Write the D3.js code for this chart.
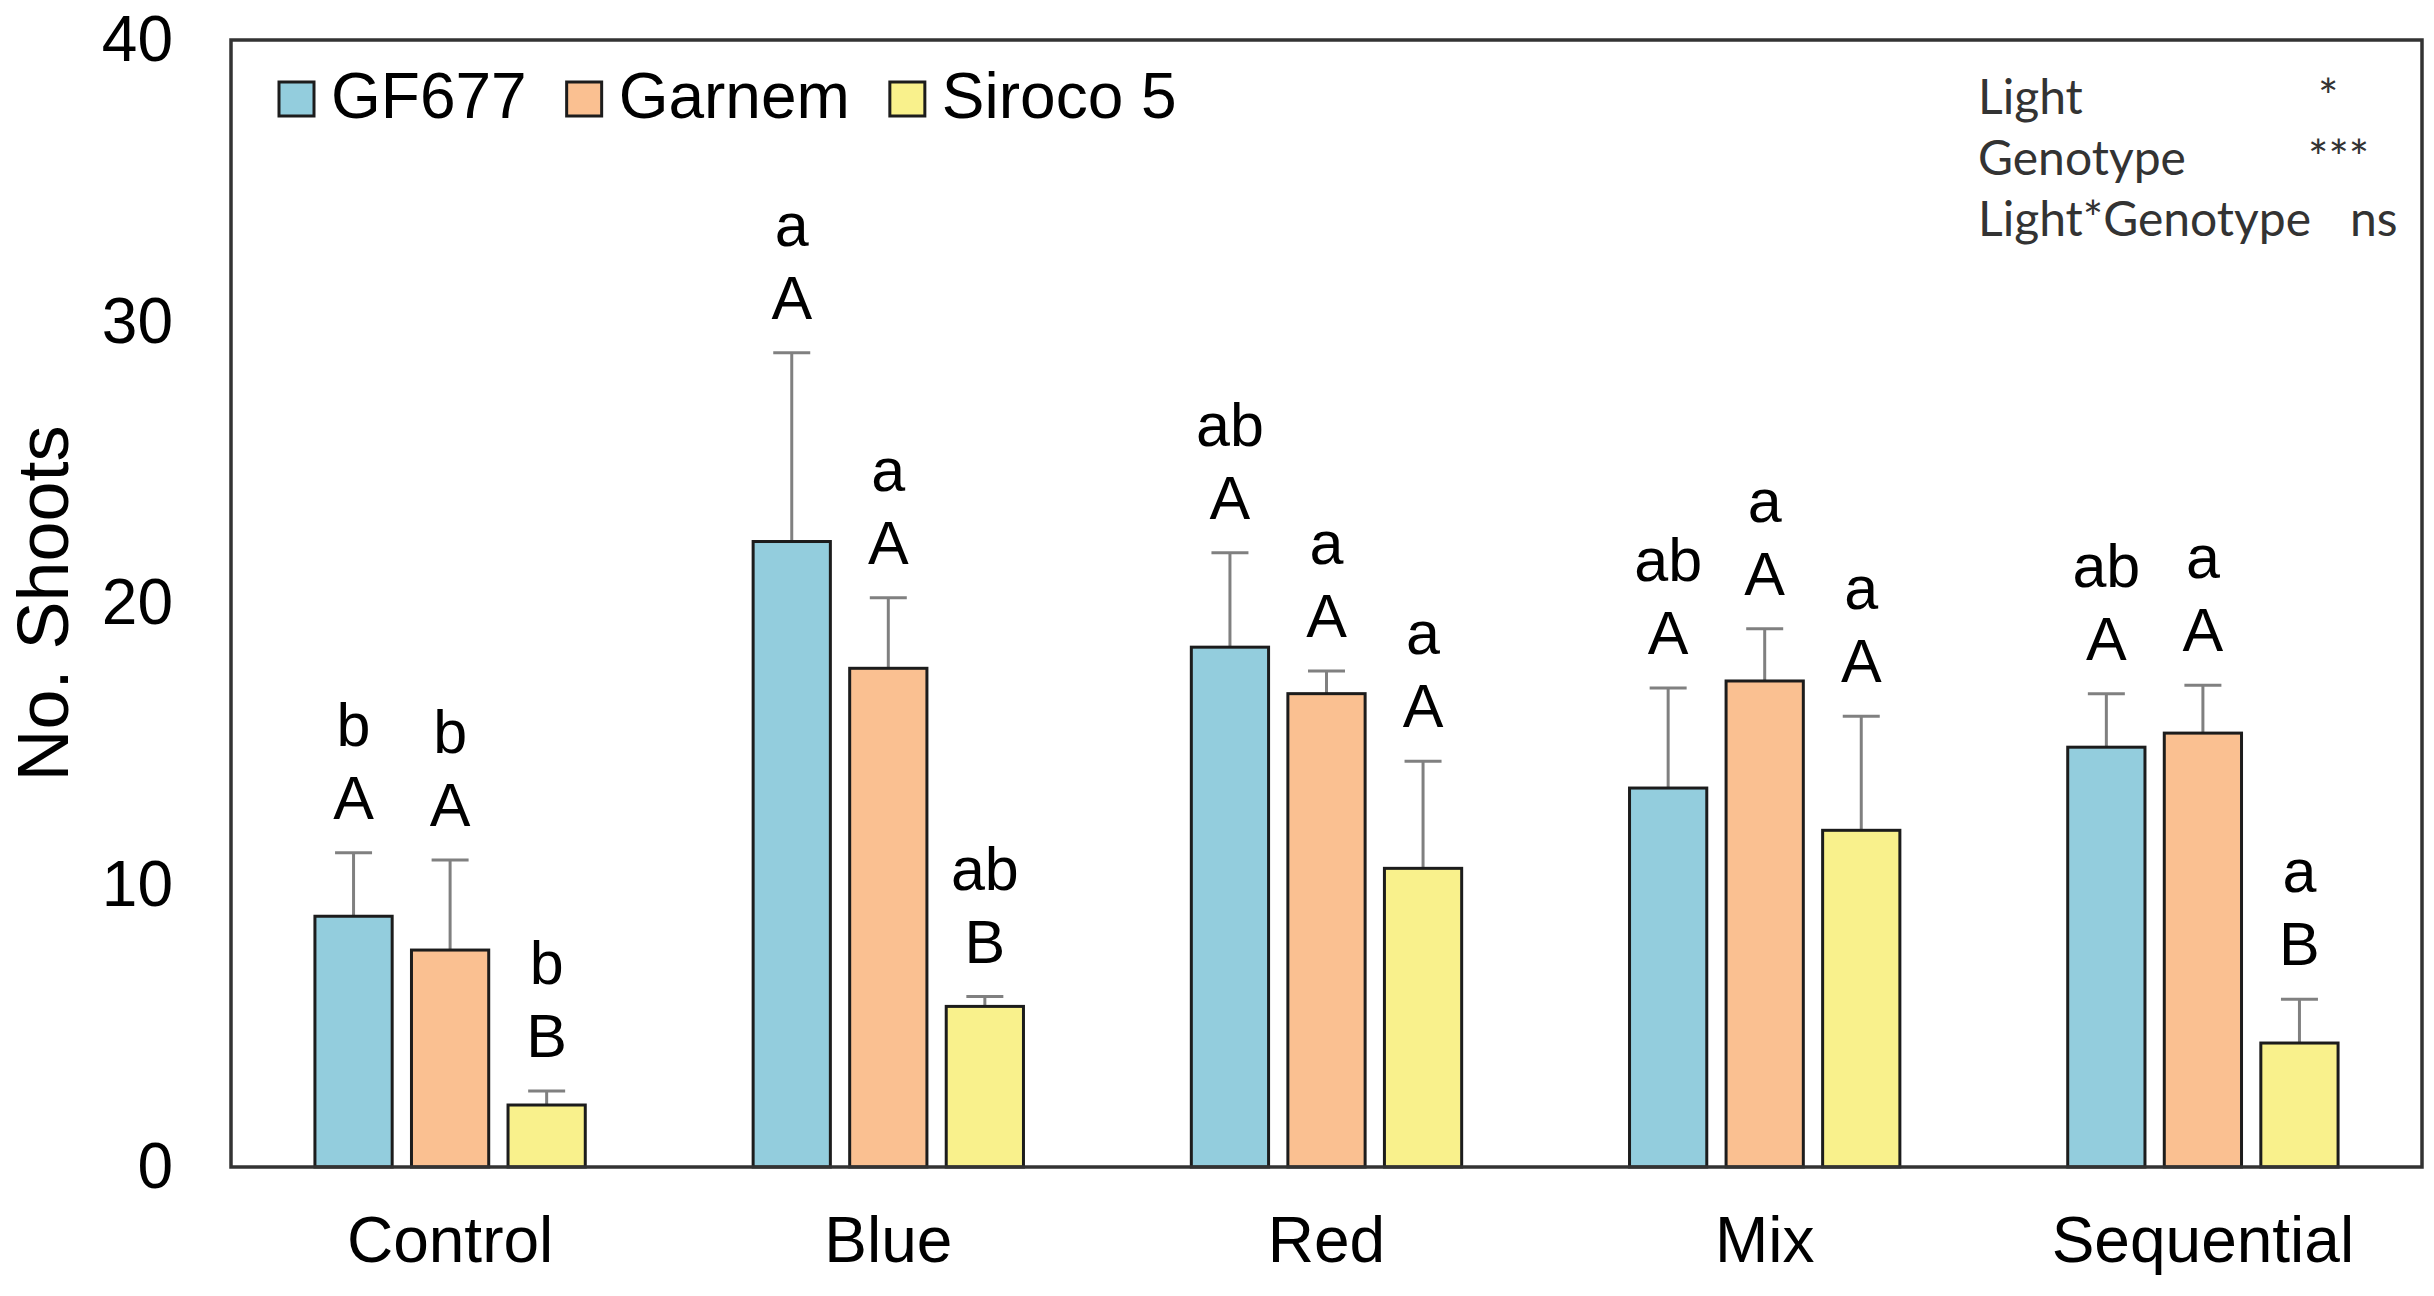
<!DOCTYPE html>
<html>
<head>
<meta charset="utf-8">
<script src="https://cdnjs.cloudflare.com/ajax/libs/d3/7.8.5/d3.min.js"></script>
<style>
  body { margin: 0; background: #fff; }
  svg { display: block; }
</style>
</head>
<body>
<svg id="chart" width="2434" height="1296"></svg>
<script>
// categories and series
var categories = ["Control", "Blue", "Red", "Mix", "Sequential"];
var series = ["GF677", "Garnem", "Siroco 5"];

// mean number of shoots per light treatment
var gf677 = [8.9, 22.2, 18.45, 13.45, 14.9];
var garnem = [7.7, 17.7, 16.8, 17.25, 15.4];
var siroco = [2.2, 5.7, 10.6, 11.95, 4.4];

// standard errors (upper bar only)
var gf677Err = [2.25, 6.7, 3.35, 3.55, 1.9];
var garnemErr = [3.2, 2.5, 0.8, 1.85, 1.7];
var sirocoErr = [0.5, 0.35, 3.8, 4.05, 1.55];

// significance letters
var gf677Lower = ["b", "a", "ab", "ab", "ab"];
var garnemLower = ["b", "a", "a", "a", "a"];
var sirocoLower = ["b", "ab", "a", "a", "a"];
var gf677Upper = ["A", "A", "A", "A", "A"];
var garnemUpper = ["A", "A", "A", "A", "A"];
var sirocoUpper = ["B", "B", "A", "A", "B"];

var yTicks = [0, 10, 20, 30, 40];

// ANOVA summary
var statTerms = ["Light", "Genotype", "Light*Genotype"];
var statSig = ["*", "***", "ns"];

var means = [gf677, garnem, siroco];
var errs = [gf677Err, garnemErr, sirocoErr];
var lowers = [gf677Lower, garnemLower, sirocoLower];
var uppers = [gf677Upper, garnemUpper, sirocoUpper];

var rows = [];
categories.forEach(function(c, i) {
    series.forEach(function(s, j) {
        rows.push({ cat: c, ser: s, v: means[j][i], e: errs[j][i], lo: lowers[j][i], up: uppers[j][i] });
    });
});

var svg = d3.select("#chart"),
    margin = { top: 40, right: 12, bottom: 129, left: 231 },
    width = +svg.attr("width") - margin.left - margin.right,
    height = +svg.attr("height") - margin.top - margin.bottom,
    g = svg.append("g").attr("transform", "translate(" + margin.left + "," + margin.top + ")");

var font = "'Liberation Sans', Arial, sans-serif";

var x = d3.scaleBand().domain(categories).range([0, width]);
var xs = d3.scaleBand().domain(series)
    .range([0, x.bandwidth() * 0.661])
    .paddingInner(0.2).paddingOuter(0.1);
var groupOffset = (x.bandwidth() - x.bandwidth() * 0.661) / 2;

var y = d3.scaleLinear().domain([0, 40]).range([height, 0]);

var color = d3.scaleOrdinal()
    .domain(series)
    .range(["#93CDDD", "#FAC091", "#F9F18C"]);

// Y axis (no ticks, no line)
var yAxis = g.append("g")
    .call(d3.axisLeft(y).tickValues(yTicks).tickSize(0).tickPadding(58));
yAxis.select(".domain").remove();
yAxis.selectAll("text").attr("font-family", font).attr("font-size", 64).attr("fill", "#000");

// X axis labels
var xAxis = g.append("g")
    .attr("transform", "translate(0," + height + ")")
    .call(d3.axisBottom(x).tickSize(0).tickPadding(50));
xAxis.select(".domain").remove();
xAxis.selectAll("text").attr("font-family", font).attr("font-size", 64).attr("fill", "#000");

// Y axis title
svg.append("text")
    .attr("transform", "rotate(-90)")
    .attr("x", -(margin.top + height / 2))
    .attr("y", 68)
    .attr("text-anchor", "middle")
    .attr("font-family", font)
    .attr("font-size", 72)
    .attr("fill", "#000")
    .text("No. Shoots");

function barX(d) { return x(d.cat) + groupOffset + xs(d.ser); }
function barMid(d) { return barX(d) + xs.bandwidth() / 2; }

// error bars
var eb = g.append("g").attr("stroke", "#808080").attr("stroke-width", 3);
eb.selectAll("line.stem")
    .data(rows).enter().append("line")
    .attr("class", "stem")
    .attr("x1", barMid).attr("x2", barMid)
    .attr("y1", function(d) { return y(d.v); })
    .attr("y2", function(d) { return y(d.v + d.e); });
eb.selectAll("line.cap")
    .data(rows).enter().append("line")
    .attr("class", "cap")
    .attr("x1", function(d) { return barMid(d) - 18.5; })
    .attr("x2", function(d) { return barMid(d) + 18.5; })
    .attr("y1", function(d) { return y(d.v + d.e); })
    .attr("y2", function(d) { return y(d.v + d.e); });

// bars
g.append("g")
    .selectAll("rect")
    .data(rows).enter().append("rect")
    .attr("x", barX)
    .attr("y", function(d) { return y(d.v); })
    .attr("width", xs.bandwidth())
    .attr("height", function(d) { return y(0) - y(d.v); })
    .attr("fill", function(d) { return color(d.ser); })
    .attr("stroke", "#1c1c1c")
    .attr("stroke-width", 3);

// letters above the error bars
var lab = g.append("g")
    .attr("font-family", font)
    .attr("font-size", 61)
    .attr("fill", "#000")
    .attr("text-anchor", "middle");
lab.selectAll("text.up")
    .data(rows).enter().append("text")
    .attr("class", "up")
    .attr("x", barMid)
    .attr("y", function(d) { return y(d.v + d.e) - 34; })
    .text(function(d) { return d.up; });
lab.selectAll("text.lo")
    .data(rows).enter().append("text")
    .attr("class", "lo")
    .attr("x", barMid)
    .attr("y", function(d) { return y(d.v + d.e) - 107; })
    .text(function(d) { return d.lo; });

// plot frame
g.append("rect")
    .attr("width", width)
    .attr("height", height)
    .attr("fill", "none")
    .attr("stroke", "#333")
    .attr("stroke-width", 3.5);

// legend
var legend = g.append("g").attr("font-family", font).attr("font-size", 64).attr("fill", "#000");
var lx = 48;
series.forEach(function(s) {
    legend.append("rect")
        .attr("x", lx).attr("y", 42)
        .attr("width", 35).attr("height", 34)
        .attr("fill", color(s))
        .attr("stroke", "#1c1c1c")
        .attr("stroke-width", 3);
    var t = legend.append("text")
        .attr("x", lx + 52).attr("y", 78)
        .text(s);
    lx = lx + 52 + t.node().getComputedTextLength() + 40;
});

// ANOVA table
var stats = g.append("g")
    .attr("font-family", "Lato, 'Open Sans', sans-serif")
    .attr("font-size", 48)
    .attr("fill", "#333");
var sigX = [2087, 2077, 2119];
statTerms.forEach(function(t, i) {
    stats.append("text").attr("x", 1747).attr("y", 74 + i * 61).text(t);
    stats.append("text").attr("x", sigX[i]).attr("y", 74 + i * 61).text(statSig[i]);
});
</script>
</body>
</html>
